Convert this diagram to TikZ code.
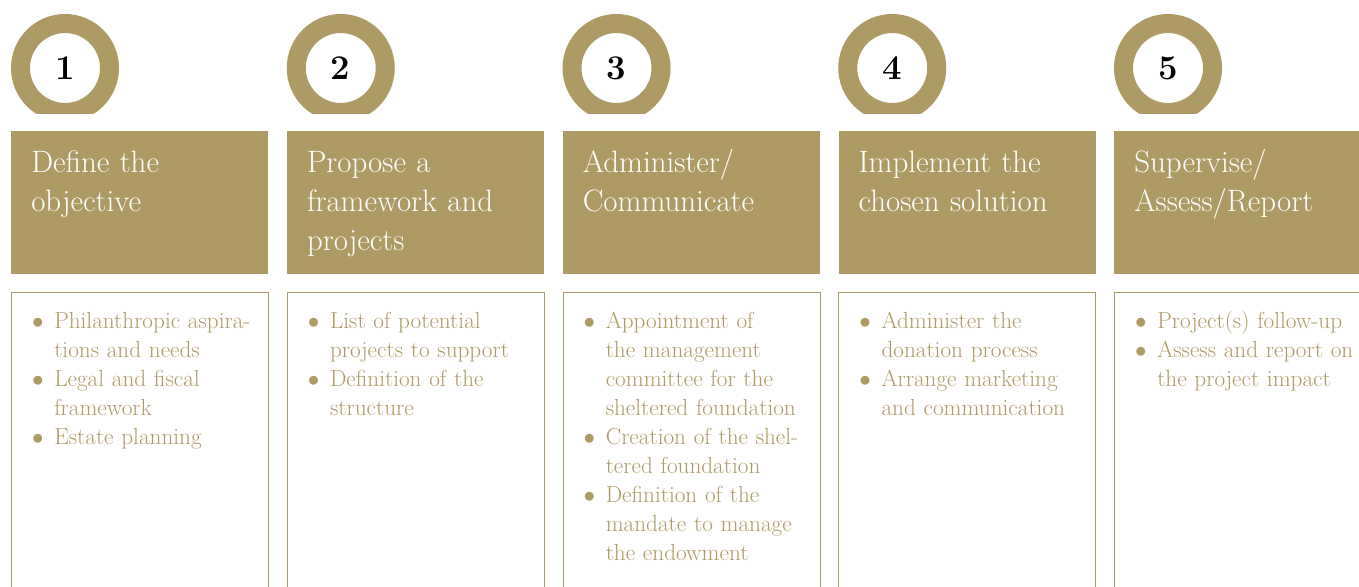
\documentclass[tikz,border=0pt]{standalone}
\usepackage{enumitem}
\usetikzlibrary{positioning,calc}
\definecolor{gold}{RGB}{174,154,100}
\setlist[itemize]{label=$\bullet$, leftmargin=12.75pt, labelsep=8pt, itemsep=0pt, parsep=0pt, topsep=0pt, partopsep=0pt}
\tikzset{
  ring/.style={circle, draw=gold, line width=14.25pt, minimum size=66.75pt, inner sep=0pt, font=\fontsize{26}{30}\selectfont\bfseries},
  headbox/.style={rectangle, fill=gold, anchor=north west, minimum width=192.75pt, minimum height=107.25pt, inner sep=0pt},
  headtext/.style={anchor=base west, text width=185pt, align=left, inner sep=0pt, text=white, font=\fontsize{23.2}{29.25}\selectfont},
  listbox/.style={rectangle, draw=gold, line width=0.9pt, anchor=north west, minimum width=192.75pt, minimum height=300pt, inner sep=0pt},
  listtext/.style={anchor=base west, text width=172.5pt, inner sep=0pt, text=gold, font=\fontsize{17.4}{21.75}\selectfont}
}
\begin{document}
\begin{tikzpicture}[x=0.75pt,y=-0.75pt]
  \useasboundingbox (0,0) rectangle (1359,586);
  \clip (0,0) rectangle (1359,586);
  % five steps: ring with number, title box, list box
  \foreach \i/\head/\body in {
      1/{Define the\\objective}/{\item Philanthropic aspira-\\tions and needs \item Legal and fiscal\\framework \item Estate planning},
      2/{Propose a\\framework and\\projects}/{\item List of potential\\projects to support \item Definition of the\\structure},
      3/{Administer/\\Communicate}/{\item Appointment of\\the management\\committee for the\\sheltered foundation \item Creation of the shel-\\tered foundation \item Definition of the\\mandate to manage\\the endowment},
      4/{Implement the\\chosen solution}/{\item Administer the\\donation process \item Arrange marketing\\and communication},
      5/{Supervise/\\Assess/Report}/{\item Project(s) follow-up \item Assess and report on\\the project impact}}
  {
    \pgfmathsetmacro{\lft}{11+(\i-1)*275.75}
    % ring cut flat at the bottom
    \begin{scope}
      \clip (\lft-2,0) rectangle (\lft+110,113);
      \node[ring] (num\i) at (\lft+54,68) {\i};
    \end{scope}
    \node[headbox] (head\i) at (\lft,131) {};
    \node[headtext] (title\i) at ($(head\i.north west)+(20,41)$) {\head};
    \node[listbox] (box\i) at (\lft,292) {};
    \node[listtext] (list\i) at ($(box\i.north west)+(26,7)$) {\begin{itemize}\body\end{itemize}};
  }
\end{tikzpicture}
\end{document}
